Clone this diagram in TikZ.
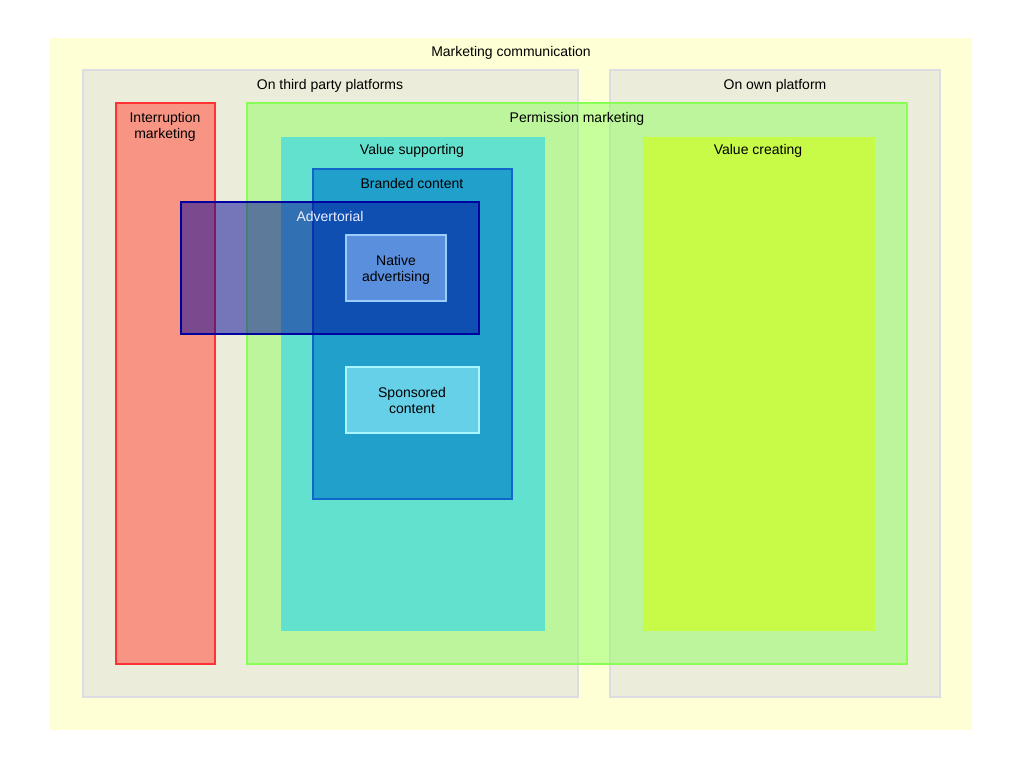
\documentclass[tikz,border=0pt]{standalone}
\usepackage{fontspec}
\setmainfont{Liberation Sans}
\usetikzlibrary{fit}
\definecolor{mcfill}{HTML}{FFFFD5}
\definecolor{platfill}{HTML}{ECECDA}
\definecolor{platdraw}{HTML}{DCDCE2}
\definecolor{intfill}{HTML}{F89484}
\definecolor{intdraw}{HTML}{FF3333}
\definecolor{permfill}{HTML}{90FF60}
\definecolor{permdraw}{HTML}{88FF55}
\definecolor{vsfill}{HTML}{62E1CF}
\definecolor{vcfill}{HTML}{C8FA48}
\definecolor{bcfill}{HTML}{22A0CC}
\definecolor{bcdraw}{HTML}{1166CC}
\definecolor{advfill}{HTML}{000099}
\definecolor{advdraw}{HTML}{0000A0}
\definecolor{advtext}{HTML}{EEEEFF}
\definecolor{nafill}{HTML}{5A8FDD}
\definecolor{nadraw}{HTML}{99CCFF}
\definecolor{scfill}{HTML}{66D0E8}
\definecolor{scdraw}{HTML}{AAF5FF}
\begin{document}
\begin{tikzpicture}[x=0.75pt,y=-0.75pt,
  font=\fontsize{10.5}{12}\selectfont,
  box/.style={inner sep=0pt, line width=1.5pt},
  lbl/.style={align=center, inner sep=0pt, text=black}]
\useasboundingbox[fill=white] (0,0) rectangle (1024,768);
% boxes
\node (mc) [box, fill=mcfill, fit={(50,38) (972,730)}] {};
\node (tpp) [box, fill=platfill, draw=platdraw, fit={(83,70) (578,697)}] {};
\node (own) [box, fill=platfill, draw=platdraw, fit={(610,70) (940,697)}] {};
\node (int) [box, fill=intfill, draw=intdraw, fit={(116,103) (215,664)}] {};
\node (perm) [box, fill=permfill, fill opacity=0.5, draw=permdraw, draw opacity=1, fit={(247,103) (907,664)}] {};
\node (vs) [box, fill=vsfill, fit={(281,137) (545,631)}] {};
\node (vc) [box, fill=vcfill, fit={(643,137) (875,631)}] {};
\node (bc) [box, fill=bcfill, draw=bcdraw, fit={(313,169) (512,499)}] {};
\node (adv) [box, fill=advfill, fill opacity=0.5, draw=advdraw, draw opacity=1, fit={(181,202) (479,334)}] {};
\node (na) [box, fill=nafill, draw=nadraw, fit={(346,235) (446,301)}] {};
\node (sc) [box, fill=scfill, draw=scdraw, fit={(346,367) (479,433)}] {};
% labels
\node (mcl) [lbl] at (511,53) {Marketing communication};
\node (tppl) [lbl] at (330,86) {On third party platforms};
\node (ownl) [lbl] at (775,86) {On own platform};
\node (intl) [lbl] at (165,127) {Interruption\\marketing};
\node (perml) [lbl] at (577,119) {Permission marketing};
\node (vsl) [lbl] at (412,151) {Value supporting};
\node (vcl) [lbl] at (758,151) {Value creating};
\node (bcl) [lbl] at (412,183) {Branded content};
\node (advl) [lbl, text=advtext] at (330,216) {Advertorial};
\node (nal) [lbl] at (396,270) {Native\\advertising};
\node (scl) [lbl] at (412,400) {Sponsored\\content};
\end{tikzpicture}
\end{document}
